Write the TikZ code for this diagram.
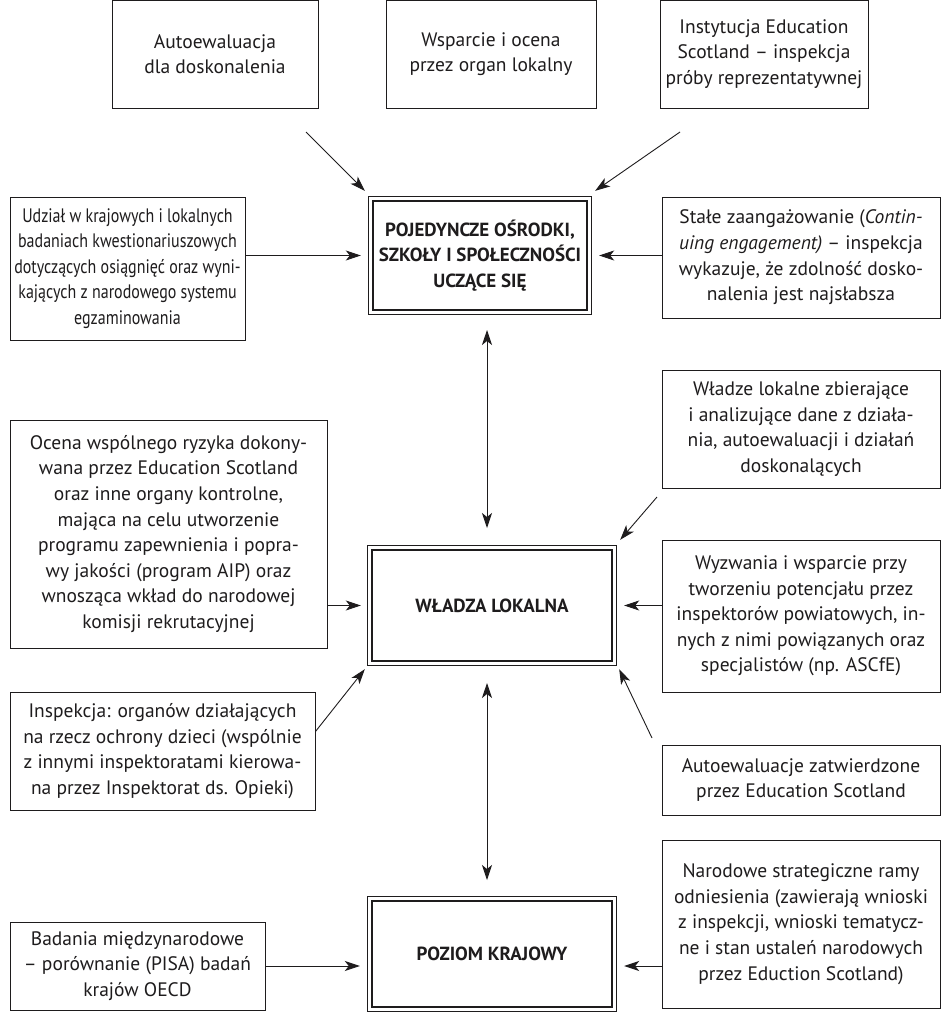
\documentclass[tikz,border=0pt]{standalone}
\usepackage{fontspec}
\setmainfont{PT Sans}
\newfontfamily\narrowfont[FakeStretch=0.82]{PT Sans}
\usetikzlibrary{arrows.meta,calc}
\definecolor{ink}{RGB}{30,28,29}
\begin{document}
\begin{tikzpicture}[x=1pt,y=-1pt,
  txt/.style={font=\fontsize{19.5}{25.6}\selectfont, text=ink, align=center, inner sep=0pt},
  sbox/.style={txt, draw=ink, line width=0.9pt},
  cbox/.style={txt, font=\fontsize{19}{25.6}\selectfont\bfseries},
  arr/.style={draw=ink, line width=0.9pt, -{Stealth[length=15pt,width=10pt,inset=4pt]}},
  darr/.style={draw=ink, line width=0.9pt, {Stealth[length=15pt,width=10pt,inset=4pt]}-{Stealth[length=15pt,width=10pt,inset=4pt]}}
]
\useasboundingbox (0,0) rectangle (950,1013);
\fill[white] (0,0) rectangle (950,1013);

% top row
\node[sbox, minimum width=206, minimum height=108] (a1) at (215,54) {Autoewaluacja\\dla doskonalenia};
\node[sbox, minimum width=210, minimum height=108] (a2) at (491,54) {Wsparcie i ocena\\przez organ lokalny};
\node[sbox, minimum width=208, minimum height=108] (a3) at (764,54) {Instytucja Education\\Scotland – inspekcja\\próby reprezentatywnej};

% central boxes
\node[cbox, minimum width=222, minimum height=117] (c1) at (480,255.5) {POJEDYNCZE OŚRODKI,\\SZKOŁY I SPOŁECZNOŚCI\\UCZĄCE SIĘ};
\node[cbox, minimum width=248, minimum height=119] (c2) at (492,605.5) {WŁADZA LOKALNA};
\node[cbox, minimum width=248, minimum height=114] (c3) at (492,954) {POZIOM KRAJOWY};
\foreach \n in {c1,c2,c3}{
  \draw[ink, line width=0.8pt] (\n.north west) rectangle (\n.south east);
  \draw[ink, line width=2.4pt] ($(\n.north west)+(4,4)$) rectangle ($(\n.south east)+(-4,-4)$);
}

% row 2
\node[sbox, minimum width=235, minimum height=143, font=\narrowfont\fontsize{19.5}{25.6}\selectfont] (l1) at (127.5,268.5) {Udział w krajowych i lokalnych\\badaniach kwestionariuszowych\\dotyczących osiągnięć oraz wyni-\\kających z narodowego systemu\\egzaminowania};
\node[sbox, minimum width=278, minimum height=121] (r1) at (801,257.5) {Stałe zaangażowanie (\textit{Contin-}\\\textit{uing engagement)} – inspekcja\\wykazuje, że zdolność dosko-\\nalenia jest najsłabsza};

% row 3
\node[sbox, minimum width=278, minimum height=118] (r2) at (801,429) {Władze lokalne zbierające\\i analizujące dane z działa-\\nia, autoewaluacji i działań\\doskonalących};
\node[sbox, minimum width=317, minimum height=228] (l2) at (168.5,534) {Ocena wspólnego ryzyka dokony-\\wana przez Education Scotland\\oraz inne organy kontrolne,\\mająca na celu utworzenie\\programu zapewnienia i popra-\\wy jakości (program AIP) oraz\\wnosząca wkład do narodowej\\komisji rekrutacyjnej};
\node[sbox, minimum width=278, minimum height=152] (r3) at (801,616) {Wyzwania i wsparcie przy\\tworzeniu potencjału przez\\inspektorów powiatowych, in-\\nych z nimi powiązanych oraz\\specjalistów (np. ASCfE)};

% row 4
\node[sbox, minimum width=305, minimum height=118] (l3) at (162.5,751) {Inspekcja: organów działających\\na rzecz ochrony dzieci (wspólnie\\z innymi inspektoratami kierowa-\\na przez Inspektorat ds. Opieki)};
\node[sbox, minimum width=278, minimum height=70] (r4) at (801,780) {Autoewaluacje zatwierdzone\\przez Education Scotland};

% row 5
\node[sbox, minimum width=255, minimum height=88] (l4) at (137.5,966) {Badania międzynarodowe\\– porównanie (PISA) badań\\krajów OECD};
\node[sbox, minimum width=278, minimum height=168] (r5) at (801,924) {Narodowe strategiczne ramy\\odniesienia (zawierają wnioski\\z inspekcji, wnioski tematycz-\\ne i stan ustaleń narodowych\\przez Eduction Scotland)};

% free ends of diagonal arrows
\coordinate (s1) at (306,132);
\coordinate (s3) at (680,132);
\coordinate (s2) at (657,497);
\coordinate (s3b) at ($(l3.north east)+(0,40)$);
\coordinate (s4) at (652,738);
\coordinate (v1) at (487,330);
\coordinate (v2) at (487,528);
\coordinate (v3) at (487,683);
\coordinate (v4) at (487,880);

% connectors
\draw[arr] (s1) -- ($(c1.north west)+(-4,-6)$);
\draw[arr] (s3) -- ($(c1.north east)+(4,-6)$);
\draw[arr, shorten >=8pt] (l1.east |- c1.west) -- (c1.west);
\draw[arr, shorten >=8pt] (r1.west |- c1.east) -- (c1.east);
\draw[darr] (v1) -- (v2);
\draw[arr] (s2) -- ($(c2.north east)+(4,-6)$);
\draw[arr, shorten >=7pt] (l2.east |- c2.west) -- (c2.west);
\draw[arr, shorten >=8pt] (r3.west |- c2.east) -- (c2.east);
\draw[arr] (s3b) -- ($(c2.south west)+(-3,4)$);
\draw[arr] (s4) -- ($(c2.south east)+(3,4)$);
\draw[darr] (v3) -- (v4);
\draw[arr, shorten >=8pt] (l4.east) -- (l4.east -| c3.west);
\draw[arr, shorten >=8pt] (r5.west |- l4.east) -- (c3.east |- l4.east);
\end{tikzpicture}
\end{document}
